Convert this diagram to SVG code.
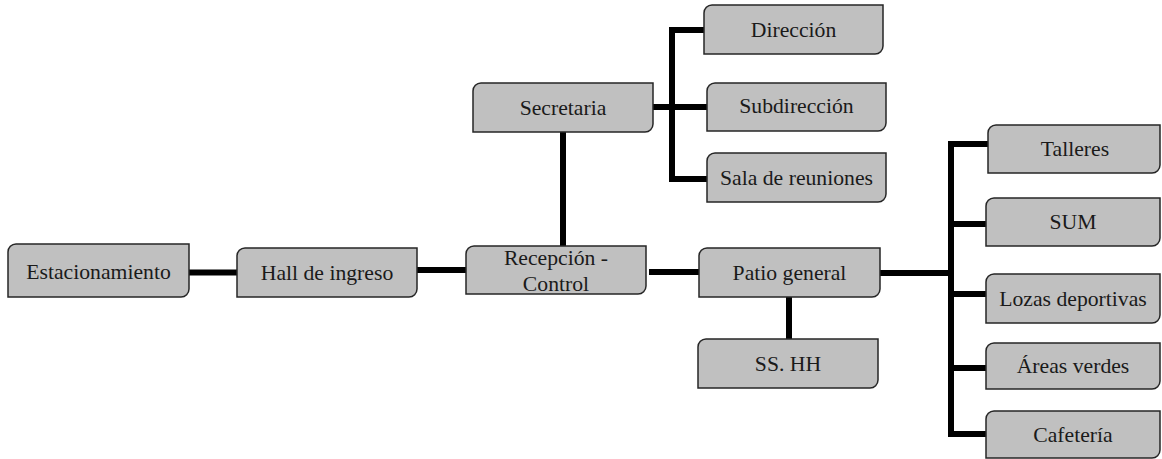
<svg xmlns="http://www.w3.org/2000/svg" width="1162" height="459" viewBox="0 0 1162 459">
  <style>
    .box { fill: #c0c0c0; stroke: #262626; stroke-width: 1.5; }
    .lbl { font-size: 21.7px; fill: #1a1a1a; text-anchor: middle; }
    .link { fill: none; stroke: #000; stroke-width: 6; stroke-linecap: butt; stroke-linejoin: miter; }
  </style>
  <rect width="1162" height="459" fill="#fff"/>

  <!-- connectors -->
  <g id="connectors">
    <path class="link" d="M189,272.5 H237"/>
    <path class="link" d="M417,270 H466"/>
    <path class="link" d="M649,272 H699"/>
    <path class="link" d="M563,132 V246"/>
    <path class="link" d="M789,297 V339"/>
    <!-- Secretaria branch -->
    <path class="link" d="M704,30 H672 V179 H707"/>
    <path class="link" d="M653,107 H707"/>
    <!-- Patio branch -->
    <path class="link" d="M880,273 H951"/>
    <path class="link" d="M988,144 H951 V434 H986"/>
    <path class="link" d="M951,224 H986"/>
    <path class="link" d="M951,294 H986"/>
    <path class="link" d="M951,368 H986"/>
  </g>

  <!-- nodes: corners rounded top-left and bottom-right -->
  <g id="nodes" font-family="Liberation Serif, Tinos, DejaVu Serif, serif">
  <g id="estacionamiento">
    <path class="box" d="M16,244 H189 V289 A8,8 0 0 1 181,297 H8 V252 A8,8 0 0 1 16,244 Z"/>
    <text class="lbl" x="98.5" y="279">Estacionamiento</text>
  </g>
  <g id="hall">
    <path class="box" d="M245,248 H417 V289 A8,8 0 0 1 409,297 H237 V256 A8,8 0 0 1 245,248 Z"/>
    <text class="lbl" x="327" y="280">Hall de ingreso</text>
  </g>
  <g id="recepcion">
    <path class="box" d="M474,246 H646 V286 A8,8 0 0 1 638,294 H466 V254 A8,8 0 0 1 474,246 Z"/>
    <text class="lbl" x="556" y="265">Recepción -</text>
    <text class="lbl" x="556" y="291">Control</text>
  </g>
  <g id="patio">
    <path class="box" d="M707,248 H880 V289 A8,8 0 0 1 872,297 H699 V256 A8,8 0 0 1 707,248 Z"/>
    <text class="lbl" x="789.5" y="280">Patio general</text>
  </g>
  <g id="sshh">
    <path class="box" d="M706,339 H878 V380 A8,8 0 0 1 870,388 H698 V347 A8,8 0 0 1 706,339 Z"/>
    <text class="lbl" x="788" y="371">SS. HH</text>
  </g>
  <g id="secretaria">
    <path class="box" d="M481,83 H653 V124 A8,8 0 0 1 645,132 H473 V91 A8,8 0 0 1 481,83 Z"/>
    <text class="lbl" x="563" y="115">Secretaria</text>
  </g>
  <g id="direccion">
    <path class="box" d="M712,5 H883 V46 A8,8 0 0 1 875,54 H704 V13 A8,8 0 0 1 712,5 Z"/>
    <text class="lbl" x="793.5" y="37">Dirección</text>
  </g>
  <g id="subdireccion">
    <path class="box" d="M715,83 H886 V123 A8,8 0 0 1 878,131 H707 V91 A8,8 0 0 1 715,83 Z"/>
    <text class="lbl" x="796.5" y="113">Subdirección</text>
  </g>
  <g id="sala">
    <path class="box" d="M715,153 H886 V194 A8,8 0 0 1 878,202 H707 V161 A8,8 0 0 1 715,153 Z"/>
    <text class="lbl" x="796.5" y="185">Sala de reuniones</text>
  </g>
  <g id="talleres">
    <path class="box" d="M996,125 H1160 V165 A8,8 0 0 1 1152,173 H988 V133 A8,8 0 0 1 996,125 Z"/>
    <text class="lbl" x="1075" y="156">Talleres</text>
  </g>
  <g id="sum">
    <path class="box" d="M994,198 H1160 V238 A8,8 0 0 1 1152,246 H986 V206 A8,8 0 0 1 994,198 Z"/>
    <text class="lbl" x="1073" y="229">SUM</text>
  </g>
  <g id="lozas">
    <path class="box" d="M994,274 H1160 V315 A8,8 0 0 1 1152,323 H986 V282 A8,8 0 0 1 994,274 Z"/>
    <text class="lbl" x="1073" y="306">Lozas deportivas</text>
  </g>
  <g id="areas">
    <path class="box" d="M994,343 H1160 V381 A8,8 0 0 1 1152,389 H986 V351 A8,8 0 0 1 994,343 Z"/>
    <text class="lbl" x="1073" y="373">Áreas verdes</text>
  </g>
  <g id="cafeteria">
    <path class="box" d="M994,411 H1160 V450 A8,8 0 0 1 1152,458 H986 V419 A8,8 0 0 1 994,411 Z"/>
    <text class="lbl" x="1073" y="442">Cafetería</text>
  </g>
  </g>
</svg>
